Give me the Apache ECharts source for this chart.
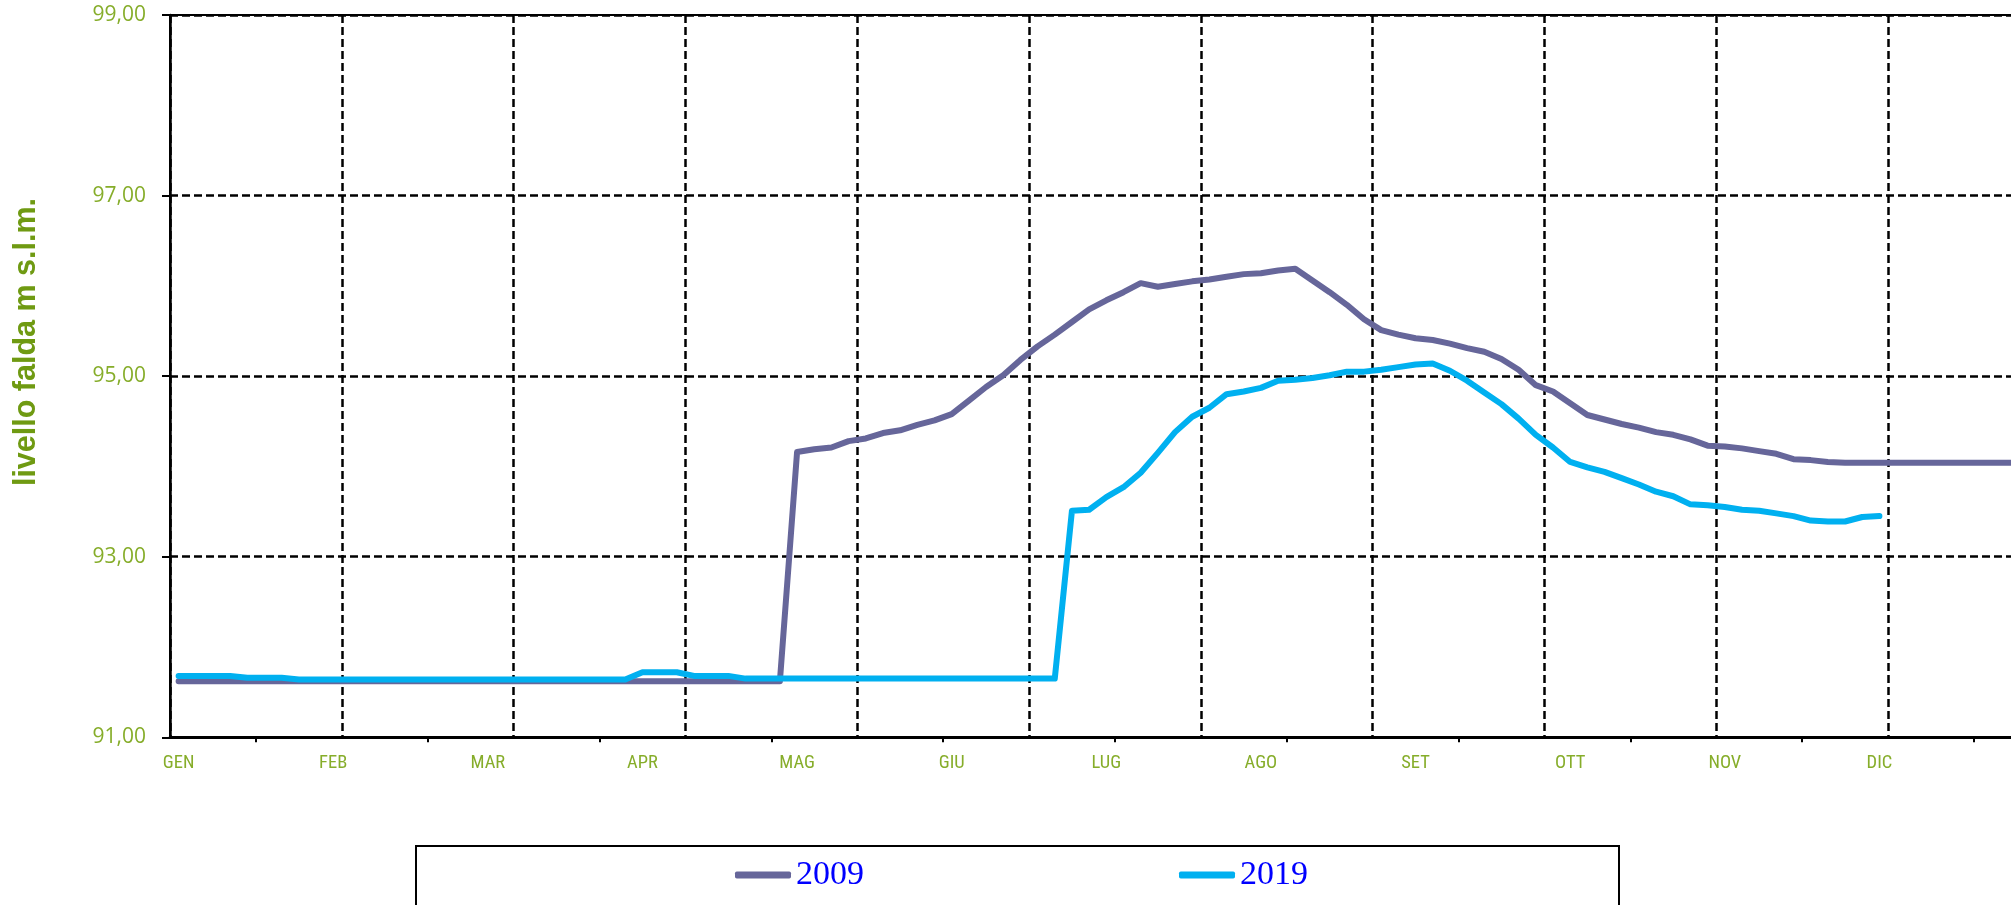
<!DOCTYPE html>
<html>
<head>
<meta charset="utf-8">
<script src="https://cdn.jsdelivr.net/npm/echarts@6/dist/echarts.min.js"></script>
<style>
html,body{margin:0;padding:0;background:#fff;}
#chart{width:2011px;height:905px;}
</style>
</head>
<body>
<div id="chart"></div>
<script>
// Month tick labels (one every 9 categories)
var months = ['GEN','FEB','MAR','APR','MAG','GIU','LUG','AGO','SET','OTT','NOV','DIC'];
var seriesNames = ['2009', '2019'];

// 2009 values, one per category
var values2009 = [
  91.62,91.62,91.62,91.62,91.62,91.62,91.62,91.62,91.62,91.62,
  91.62,91.62,91.62,91.62,91.62,91.62,91.62,91.62,91.62,91.62,
  91.62,91.62,91.62,91.62,91.62,91.62,91.62,91.62,91.62,91.62,
  91.62,91.62,91.62,91.62,91.62,91.62,
  94.16,94.19,94.21,94.28,94.31,94.37,94.40,94.46,94.51,94.58,
  94.73,94.88,95.01,95.18,95.33,95.46,95.60,95.74,95.84,95.93,
  96.03,95.99,96.02,96.05,96.07,96.10,96.13,96.14,96.17,96.19,
  96.06,95.93,95.79,95.63,95.51,95.46,95.42,95.40,95.36,95.31,
  95.27,95.19,95.07,94.90,94.83,94.70,94.57,94.52,94.47,94.43,
  94.38,94.35,94.30,94.23,94.22,94.20,94.17,94.14,94.08,94.07,
  94.05,94.04,94.04,94.04,94.04,94.04,94.04,94.04,94.04,94.04,
  94.04,94.04,94.04
];

// 2019 values, one per category
var values2019 = [
  91.68,91.68,91.68,91.68,91.66,91.66,91.66,91.64,91.64,91.64,
  91.64,91.64,91.64,91.64,91.64,91.64,91.64,91.64,91.64,91.64,
  91.64,91.64,91.64,91.64,91.64,91.64,91.64,91.72,91.72,91.72,
  91.68,91.68,91.68,91.65,91.65,91.65,91.65,91.65,91.65,91.65,
  91.65,91.65,91.65,91.65,91.65,91.65,91.65,91.65,91.65,91.65,
  91.65,91.65,93.51,93.52,93.66,93.77,93.93,94.15,94.38,94.55,
  94.65,94.80,94.83,94.87,94.95,94.96,94.98,95.01,95.05,95.05,
  95.07,95.10,95.13,95.14,95.06,94.95,94.82,94.69,94.53,94.35,
  94.21,94.05,93.99,93.94,93.87,93.80,93.72,93.67,93.58,93.57,
  93.55,93.52,93.51,93.48,93.45,93.40,93.39,93.39,93.44,93.45
];

var categoryCount = 110;
var categories = [];
for (var i = 0; i < categoryCount; i++) {
  categories.push(i % 9 === 0 && months[i / 9] ? months[i / 9] : '');
}

var green = '#86AD2A';
var chart = echarts.init(document.getElementById('chart'), null, {renderer: 'canvas'});
chart.setOption({
  backgroundColor: '#ffffff',
  animation: false,
  grid: {
    left: 170, top: 15, width: 1889.8, height: 722.3,
    outerBoundsMode: 'none', containLabel: false,
    show: true, borderColor: '#000', borderWidth: 2, backgroundColor: 'transparent'
  },
  legend: {
    data: seriesNames,
    left: 416, top: 846,
    orient: 'horizontal',
    padding: [12, 311, 40, 319],
    itemGap: 315,
    itemWidth: 56, itemHeight: 7,
    icon: 'roundRect',
    borderColor: '#000', borderWidth: 2,
    textStyle: {color: '#0000FF', fontFamily: 'Liberation Serif', fontSize: 34}
  },
  graphic: [{
    type: 'text',
    x: 27, y: 342,
    rotation: Math.PI / 2,
    style: {
      text: 'livello falda m s.l.m.',
      fill: '#6F9A12',
      font: 'bold 30.5px "Liberation Sans", Arial, sans-serif',
      align: 'center', verticalAlign: 'middle'
    }
  }],
  xAxis: {
    type: 'category',
    data: categories,
    boundaryGap: true,
    axisLine: {show: true, lineStyle: {color: '#000', width: 3}},
    axisTick: {show: true, length: 5, lineStyle: {color: '#000', width: 2},
      interval: function (idx) { return idx % 10 === 5; }},
    axisLabel: {show: true, interval: 8, margin: 17, color: green,
      fontFamily: '"Liberation Sans Narrow", "Roboto Condensed", Roboto, sans-serif', fontSize: 18.5},
    splitLine: {show: true, interval: function (idx) { return idx % 10 === 0; },
      lineStyle: {color: '#000', width: 2.5, type: [8, 4]}}
  },
  yAxis: {
    type: 'value',
    min: 91, max: 99, interval: 2,
    axisLine: {show: true, lineStyle: {color: '#000', width: 2.5}},
    axisTick: {show: true, length: 8, lineStyle: {color: '#000', width: 2}},
    axisLabel: {color: green, fontFamily: '"Open Sans", sans-serif', fontSize: 21, margin: 24,
      formatter: function (v) { return v.toFixed(2).replace('.', ','); }},
    splitLine: {show: true, lineStyle: {color: '#000', width: 2.5, type: [8, 4]}}
  },
  series: [
    {name: seriesNames[0], type: 'line', data: values2009, symbol: 'none', smooth: false,
      itemStyle: {color: '#66669A'},
      lineStyle: {color: '#66669A', width: 6, cap: 'round', join: 'round'}, z: 3},
    {name: seriesNames[1], type: 'line', data: values2019, symbol: 'none', smooth: false,
      itemStyle: {color: '#00B0F0'},
      lineStyle: {color: '#00B0F0', width: 6, cap: 'round', join: 'round'}, z: 4}
  ]
});
</script>
</body>
</html>
